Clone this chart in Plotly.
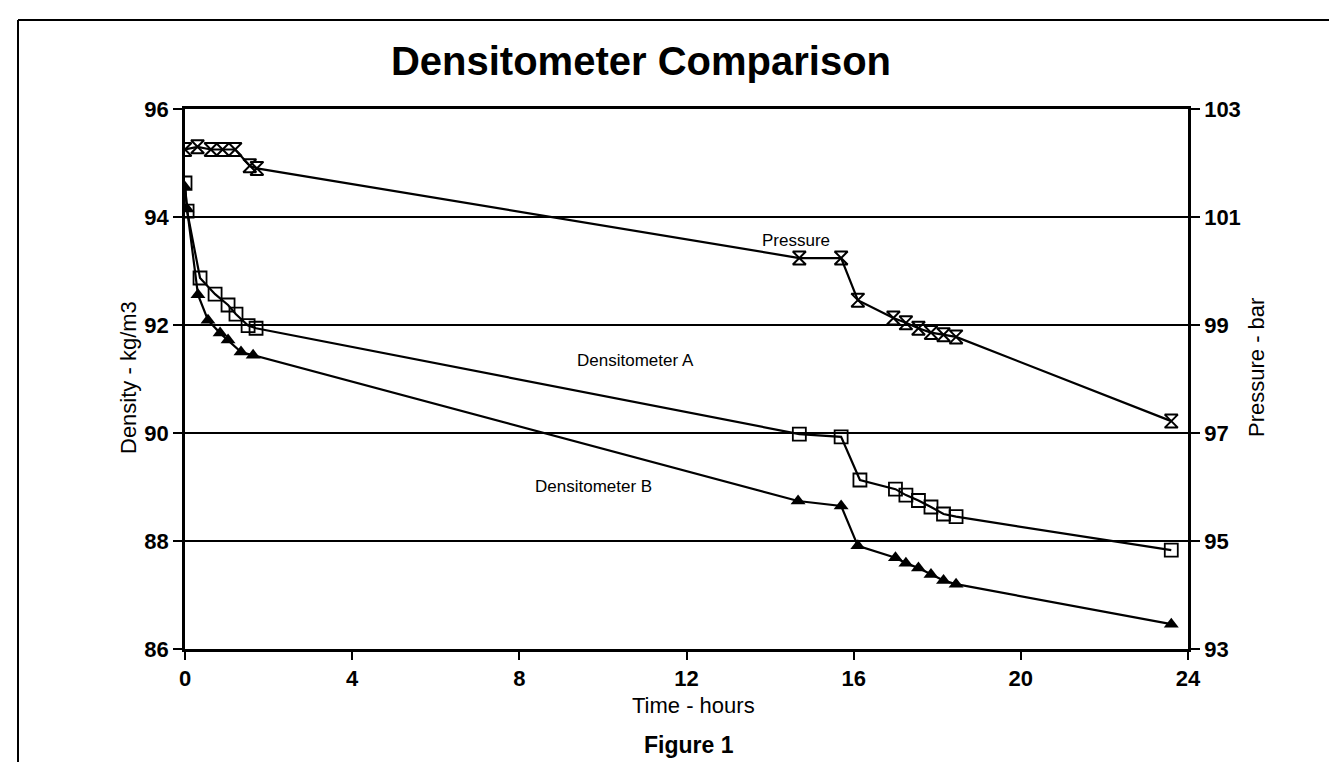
import plotly.graph_objects as go

# ---------------- data ----------------
time_a = [0.0, 0.05, 0.36, 0.72, 1.03, 1.22, 1.51, 1.70, 14.7, 15.7, 16.15, 17.0, 17.25, 17.55, 17.85, 18.15, 18.45, 23.6]
dens_a = [94.63, 94.11, 92.87, 92.57, 92.37, 92.20, 91.99, 91.94, 89.98, 89.93, 89.13, 88.96, 88.85, 88.75, 88.63, 88.50, 88.45, 87.83]

time_b = [0.0, 0.05, 0.31, 0.55, 0.84, 1.03, 1.34, 1.63, 14.67, 15.7, 16.1, 17.0, 17.25, 17.55, 17.85, 18.15, 18.45, 23.6]
dens_b = [94.55, 94.15, 92.56, 92.09, 91.85, 91.72, 91.50, 91.44, 88.74, 88.65, 87.91, 87.69, 87.59, 87.50, 87.38, 87.27, 87.20, 86.46]

time_p = [0.0, 0.3, 0.62, 0.9, 1.2, 1.55, 1.72, 14.7, 15.7, 16.1, 16.95, 17.25, 17.55, 17.85, 18.15, 18.45, 23.6]
press = [102.25, 102.30, 102.25, 102.25, 102.25, 101.95, 101.90, 100.24, 100.24, 99.46, 99.13, 99.04, 98.94, 98.86, 98.82, 98.78, 97.22]

x_ticks = [0, 4, 8, 12, 16, 20, 24]
y_ticks = [86, 88, 90, 92, 94, 96]
y2_ticks = [93, 95, 97, 99, 101, 103]

# ---------------- layout helpers ----------------
W, H = 1337, 762
L, R, T, B = 177, 1180, 101, 641


def px(x):
    return (x - L) / (R - L)


def py(y):
    return (B - y) / (B - T)


FONT = "Liberation Sans, Arial, sans-serif"
line_style = dict(color="black", width=2.2)

fig = go.Figure()
fig.add_trace(go.Scatter(
    x=time_p, y=press, yaxis="y2", mode="lines+markers", name="Pressure",
    line=line_style,
    marker=dict(symbol="hourglass-open", size=13, color="black", line=dict(width=2, color="black")),
))
fig.add_trace(go.Scatter(
    x=time_a, y=dens_a, mode="lines+markers", name="Densitometer A",
    line=line_style,
    marker=dict(symbol="square-open", size=13, color="black", line=dict(width=1.8, color="black")),
))
fig.add_trace(go.Scatter(
    x=time_b, y=dens_b, mode="lines+markers", name="Densitometer B",
    line=line_style,
    marker=dict(symbol="triangle-up", size=13, color="black"),
))

tickfont = dict(family=FONT, size=22, color="black", weight="bold")

fig.update_layout(
    width=W, height=H,
    margin=dict(l=L, r=W - R, t=T, b=H - B, pad=0),
    paper_bgcolor="white", plot_bgcolor="white",
    showlegend=False,
    font=dict(family=FONT, color="black"),
    title=dict(text="<b>Densitometer Comparison</b>", x=633 / W, xanchor="center",
               y=1 - 53 / H, yanchor="middle",
               font=dict(family=FONT, size=40, color="black")),
    xaxis=dict(range=[0, 24], tickvals=x_ticks, ticks="outside", ticklen=8, tickwidth=2,
               tickcolor="black", showline=True, linecolor="black", linewidth=2.5,
               mirror=True, showgrid=False, zeroline=False, tickfont=tickfont),
    yaxis=dict(range=[86, 96], tickvals=y_ticks, ticks="outside", ticklen=9, tickwidth=2,
               tickcolor="black", showline=True, linecolor="black", linewidth=2.5,
               showgrid=True, gridcolor="black", gridwidth=2.2, zeroline=False, tickfont=tickfont),
    yaxis2=dict(range=[93, 103], tickvals=y2_ticks, overlaying="y", side="right",
                ticks="outside", ticklen=9, tickwidth=2, tickcolor="black",
                showline=True, linecolor="black", linewidth=2.5,
                showgrid=False, zeroline=False, tickfont=tickfont),
)

small = dict(family=FONT, size=17, color="black")
title_font = dict(family=FONT, size=22, color="black")
annots = [
    dict(text="Pressure", x=px(788), y=py(232), font=small),
    dict(text="Densitometer A", x=px(627), y=py(352), font=small),
    dict(text="Densitometer B", x=px(585), y=py(478), font=small),
    dict(text="Time - hours", x=px(685), y=py(697), font=title_font),
    dict(text="<b>Figure 1</b>", x=px(681), y=py(737), font=dict(family=FONT, size=23, color="black")),
    dict(text="Density - kg/m3", x=px(120), y=py(370), textangle=-90, font=title_font),
    dict(text="Pressure - bar", x=px(1248), y=py(360), textangle=-90, font=title_font),
]
for a in annots:
    fig.add_annotation(xref="paper", yref="paper", showarrow=False,
                       xanchor="center", yanchor="middle", **a)

# page border and punch hole of the scanned page
fig.add_shape(type="line", xref="paper", yref="paper",
              x0=px(10), x1=px(10), y0=py(12), y1=py(762), line=dict(color="black", width=2))
fig.add_shape(type="line", xref="paper", yref="paper",
              x0=px(10), x1=px(1337), y0=py(12), y1=py(12), line=dict(color="black", width=2))
fig.add_shape(type="circle", xref="paper", yref="paper",
              x0=px(1322), x1=px(1356), y0=py(352), y1=py(310),
              fillcolor="black", line=dict(color="black", width=0))

fig.write_html("out.html")
